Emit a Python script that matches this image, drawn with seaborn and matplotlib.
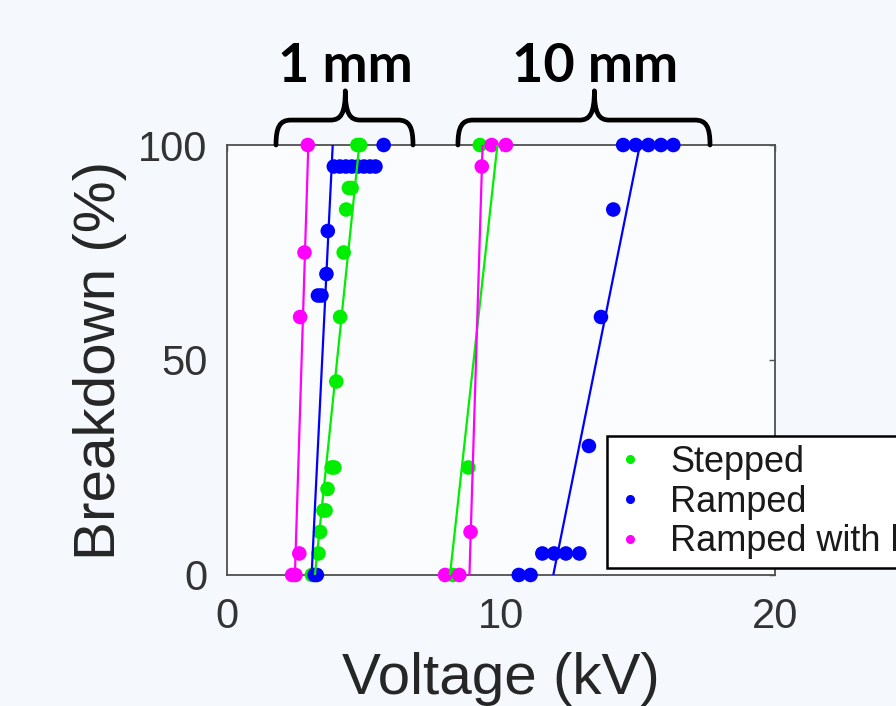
import numpy as np
import pandas as pd
import matplotlib
matplotlib.use("Agg")
import matplotlib.pyplot as plt
from matplotlib.path import Path
from matplotlib.patches import PathPatch
from matplotlib.lines import Line2D
import seaborn as sns

# ---------------- data ----------------
methods = ["Stepped", "Ramped", "Ramped with hold"]
colors = ["#00ee00", "#0000ff", "#ff00ff"]

# 1 mm gap
v_1mm_stepped = [3.10, 3.34, 3.40, 3.52, 3.60, 3.67, 3.82, 3.92, 3.99, 4.13, 4.26, 4.35, 4.45, 4.55, 4.76, 4.86]
p_1mm_stepped = [0, 5, 10, 15, 15, 20, 25, 25, 45, 60, 75, 85, 90, 90, 100, 100]
v_1mm_ramped = [3.20, 3.28, 3.32, 3.45, 3.63, 3.68, 3.90, 4.12, 4.34, 4.56, 4.78, 5.00, 5.22, 5.42, 5.72]
p_1mm_ramped = [0, 0, 65, 65, 70, 80, 95, 95, 95, 95, 95, 95, 95, 95, 100]
v_1mm_hold = [2.38, 2.50, 2.64, 2.67, 2.83, 2.95]
p_1mm_hold = [0, 0, 5, 60, 75, 100]

# 10 mm gap
v_10mm_stepped = [8.25, 8.81, 9.23]
p_10mm_stepped = [0, 25, 100]
v_10mm_ramped = [10.65, 11.08, 11.51, 11.94, 12.37, 12.86, 13.21, 13.65, 14.10, 14.46, 14.92, 15.38, 15.84, 16.29]
p_10mm_ramped = [0, 0, 5, 5, 5, 5, 30, 60, 85, 100, 100, 100, 100, 100]
v_10mm_hold = [7.96, 8.48, 8.89, 9.30, 9.66, 10.18]
p_10mm_hold = [0, 0, 10, 95, 100, 100]

# linear fit lines: voltage at 0 % and at 100 % breakdown
fit_gap = ["1 mm", "1 mm", "1 mm", "10 mm", "10 mm", "10 mm"]
fit_method = ["Stepped", "Ramped", "Ramped with hold", "Stepped", "Ramped", "Ramped with hold"]
fit_v0 = [3.21, 3.09, 2.48, 8.14, 11.91, 8.85]
fit_v100 = [4.83, 3.86, 2.97, 9.87, 15.07, 9.33]

# gap brace annotations
gap_labels = ["1 mm", "10 mm"]
gap_span_start = [1.79, 8.43]
gap_span_end = [6.79, 17.63]
gap_label_x = [4.34, 13.43]

x_ticks = [0, 10, 20]
y_ticks = [0, 50, 100]

# ---------------- tables ----------------
rows = []
for gap, meth, vs, ps in [
    ("1 mm", "Stepped", v_1mm_stepped, p_1mm_stepped),
    ("1 mm", "Ramped", v_1mm_ramped, p_1mm_ramped),
    ("1 mm", "Ramped with hold", v_1mm_hold, p_1mm_hold),
    ("10 mm", "Stepped", v_10mm_stepped, p_10mm_stepped),
    ("10 mm", "Ramped", v_10mm_ramped, p_10mm_ramped),
    ("10 mm", "Ramped with hold", v_10mm_hold, p_10mm_hold),
]:
    for v, p in zip(vs, ps):
        rows.append({"gap": gap, "method": meth, "voltage": v, "breakdown": p})
df = pd.DataFrame(rows)

fit_rows = []
for g, m, a, b in zip(fit_gap, fit_method, fit_v0, fit_v100):
    fit_rows.append({"gap": g, "method": m, "voltage": a, "breakdown": 0})
    fit_rows.append({"gap": g, "method": m, "voltage": b, "breakdown": 100})
fit_df = pd.DataFrame(fit_rows)
fit_df["unit"] = fit_df["gap"] + fit_df["method"]

palette = dict(zip(methods, colors))

# ---------------- figure ----------------
sns.set_style("white")
plt.rcParams["font.family"] = ["Liberation Sans", "DejaVu Sans"]

fig = plt.figure(figsize=(8.96, 7.06), dpi=100)
fig.patch.set_facecolor("#f5f8fd")
ax = fig.add_axes([0.2533, 0.1856, 0.6116, 0.609])
ax.set_facecolor("#fbfcfe")

sns.scatterplot(data=df, x="voltage", y="breakdown", hue="method", palette=palette,
                hue_order=methods, s=110, edgecolor="none", linewidth=0,
                legend=False, ax=ax, clip_on=False, zorder=3)
sns.lineplot(data=fit_df, x="voltage", y="breakdown", hue="method", palette=palette,
             hue_order=methods, units="unit", estimator=None, sort=False,
             linewidth=1.6, legend=False, ax=ax, zorder=4)

ax.set_xlim(0, 20)
ax.set_ylim(0, 100)
ax.set_xticks(x_ticks)
ax.set_yticks(y_ticks)
ax.set_xticklabels([str(t) for t in x_ticks])
ax.set_yticklabels([str(t) for t in y_ticks])

tick_col = "#333333"
for sp in ax.spines.values():
    sp.set_visible(True)
    sp.set_color("#505050")
    sp.set_linewidth(1.3)
ax.tick_params(axis="both", direction="in", length=4, width=1, color="#505050",
               labelsize=30, labelcolor=tick_col, top=True, right=True)
ax.tick_params(axis="x", pad=16)
ax.tick_params(axis="y", pad=14)

ax.set_xlabel("Voltage (kV)", fontsize=42, color="#262626", labelpad=11)
ax.set_ylabel("Breakdown (%)", fontsize=42, color="#262626", labelpad=8)

# braces with gap labels
y_base, y_bar, y_peak = 100, 105.8, 112.6
for lab, x0, x1, xl in zip(gap_labels, gap_span_start, gap_span_end, gap_label_x):
    xc = xl - 0.02
    r = 0.55
    verts = [
        (x0, y_base),
        (x0, y_base + 4.2), (x0 + 0.25 * r, y_bar), (x0 + r, y_bar),
        (xc - r, y_bar),
        (xc - 0.3 * r, y_bar), (xc, y_bar + 1.5), (xc, y_peak),
        (xc, y_bar + 1.5), (xc + 0.3 * r, y_bar), (xc + r, y_bar),
        (x1 - r, y_bar),
        (x1 - 0.25 * r, y_bar), (x1, y_base + 4.2), (x1, y_base),
    ]
    codes = [Path.MOVETO,
             Path.CURVE4, Path.CURVE4, Path.CURVE4,
             Path.LINETO,
             Path.CURVE4, Path.CURVE4, Path.CURVE4,
             Path.CURVE4, Path.CURVE4, Path.CURVE4,
             Path.LINETO,
             Path.CURVE4, Path.CURVE4, Path.CURVE4]
    patch = PathPatch(Path(verts, codes), facecolor="none", edgecolor="black",
                      linewidth=3.4, clip_on=False, zorder=5, capstyle="round",
                      joinstyle="round")
    ax.add_patch(patch)
    ax.annotate(lab, xy=(xl, 1 - 82 / 706), xycoords=("data", "figure fraction"),
                ha="center", va="baseline", fontsize=39, fontweight="bold",
                family=["Lato", "DejaVu Sans"], color="black", annotation_clip=False)

# legend (its right part runs past the figure edge, as in the source image)
handles = [Line2D([0], [0], marker="o", linestyle="none", markersize=6.5,
                  markerfacecolor=c, markeredgecolor="none") for c in colors]
leg = fig.legend(handles, methods, loc="upper left",
                 bbox_to_anchor=(607 / 896, 1 - 436 / 706),
                 bbox_transform=fig.transFigure,
                 fontsize=26, frameon=True, fancybox=False, framealpha=1,
                 facecolor="white", edgecolor="black", borderpad=0.25,
                 labelspacing=0.13, handlelength=0.8, handletextpad=0.7,
                 borderaxespad=0)
leg.get_frame().set_linewidth(1.8)
for t in leg.get_texts():
    t.set_color("#1a1a1a")

fig.savefig("out.png", dpi=100, facecolor=fig.get_facecolor())
